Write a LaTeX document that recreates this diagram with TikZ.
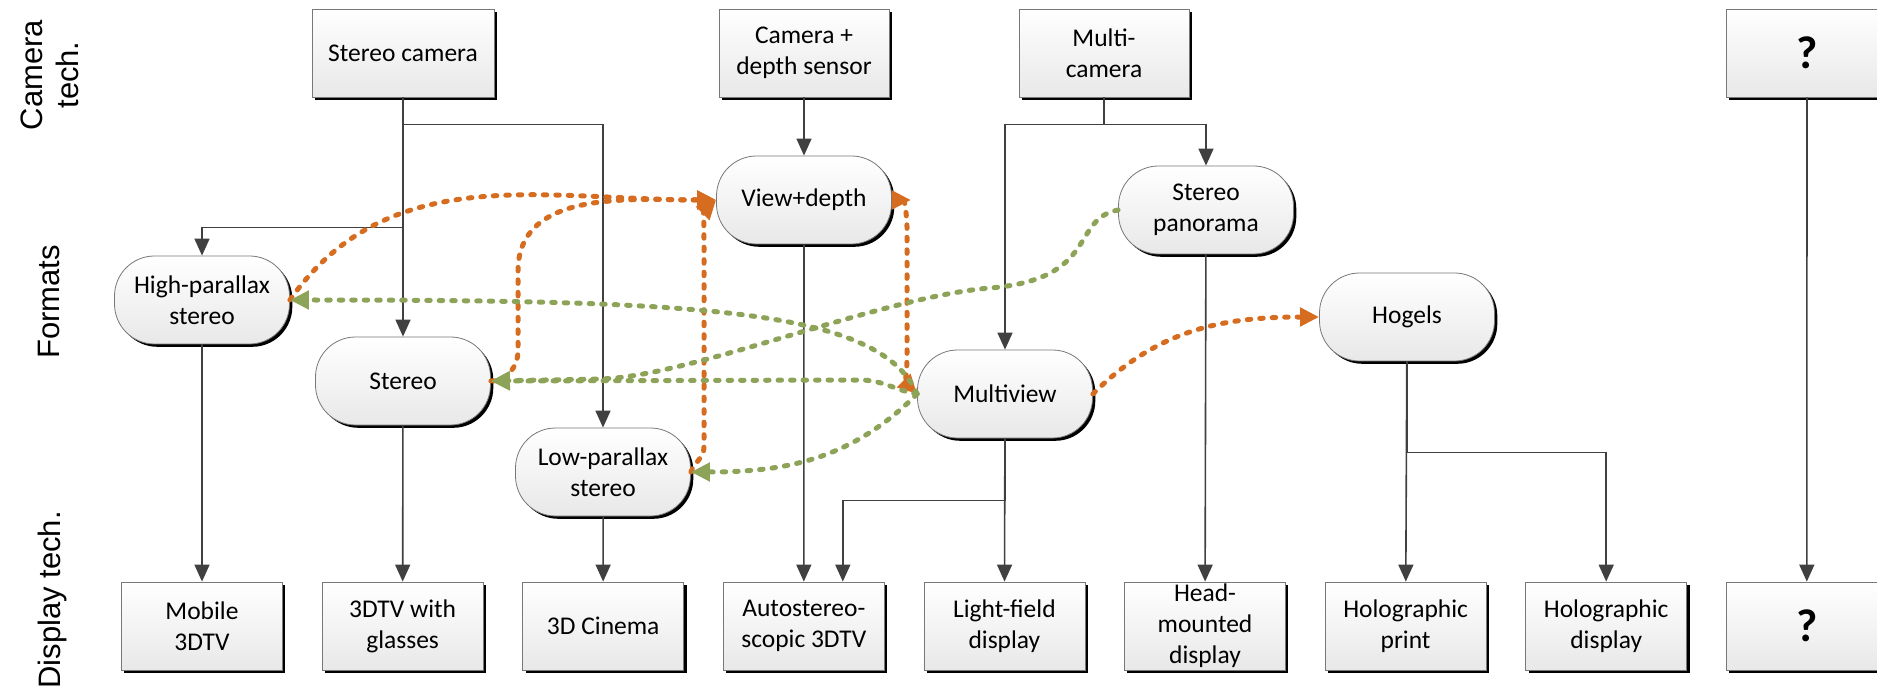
\documentclass[tikz,border=0pt]{standalone}
\usepackage{fontspec}
\setmainfont{Carlito}
\newfontfamily\rowfont{Liberation Sans}
\usetikzlibrary{positioning, arrows.meta, shadows}
\definecolor{linkgray}{RGB}{64,64,64}
\definecolor{relorange}{RGB}{213,108,32}
\definecolor{relgreen}{RGB}{141,163,88}
\definecolor{boxedge}{RGB}{120,120,120}

\begin{document}
\begin{tikzpicture}[
  x=1pt, y=1pt,
  every node/.style={font=\fontsize{25.5}{31}\selectfont},
  techbox/.style={
    rectangle, draw=boxedge, line width=0.8pt,
    top color=white, bottom color=black!9,
    drop shadow={shadow xshift=2.8pt, shadow yshift=-2.8pt, fill=black, opacity=1},
    minimum width=#1, minimum height=88pt,
    inner xsep=4pt, inner ysep=0pt, align=center
  },
  techbox/.default=161pt,
  fmtbox/.style={
    rectangle, rounded corners=40pt, draw=boxedge, line width=0.8pt,
    top color=white, bottom color=black!9,
    drop shadow={shadow xshift=2.8pt, shadow yshift=-2.8pt, fill=black, opacity=1},
    minimum width=175pt, minimum height=88pt,
    inner ysep=0pt, align=center
  },
  rowlabel/.style={font=\rowfont\fontsize{31}{36}\selectfont, rotate=90, align=center},
  link/.style={draw=linkgray, line width=1.6pt, -{Triangle[length=17pt,width=15pt]}},
  rel/.style={draw=#1, line width=5pt, line cap=round,
    dash pattern=on 3.5pt off 9pt, -{Triangle[length=19pt,width=18pt]}},
  orrel/.style={rel=relorange},
  grrel/.style={rel=relgreen}
]
\useasboundingbox (0,0) rectangle (1877,689);

% row labels
\node[rowlabel] (lcam) at (50,614) {Camera\\tech.};
\node[rowlabel] (lfmt) at (49,387) {Formats};
\node[rowlabel] (ldisp) at (52,89) {Display tech.};

% camera technologies
\node[techbox=182pt] (stcam) at (403,636) {Stereo camera};
\node[techbox=170pt] (dcam) at (804,636) {Camera +\\depth sensor};
\node[techbox=170pt] (mcam) at (1104,636) {Multi-\\camera};
\node[techbox] (qcam) at (1807,636) {\fontsize{46}{50}\selectfont\bfseries ?};

% formats
\node[fmtbox] (hipar) at (202,389) {High-parallax\\stereo};
\node[fmtbox] (stereo) at (403,308) {Stereo};
\node[fmtbox] (lopar) at (603,217) {Low-parallax\\stereo};
\node[fmtbox] (vdepth) at (804,489) {View+depth};
\node[fmtbox] (mview) at (1005,295) {Multiview};
\node[fmtbox] (spano) at (1206,479) {Stereo\\panorama};
\node[fmtbox] (hogel) at (1407,372) {Hogels};

% display technologies
\node[techbox] (mob) at (202,63) {Mobile\\3DTV};
\node[techbox, right=38.8pt of mob] (glass) {3DTV with\\glasses};
\node[techbox, right=38.8pt of glass] (cinema) {3D Cinema};
\node[techbox, right=38.8pt of cinema] (autos) {Autostereo-\\scopic 3DTV};
\node[techbox, right=38.8pt of autos] (lfield) {Light-field\\display};
\node[techbox, right=38.8pt of lfield] (hmd) {Head-\\mounted\\display};
\node[techbox, right=38.8pt of hmd] (hprint) {Holographic\\print};
\node[techbox, right=38.8pt of hprint] (hdisp) {Holographic\\display};
\node[techbox, right=38.8pt of hdisp] (qdisp) {\fontsize{46}{50}\selectfont\bfseries ?};

% capture -> format -> display
\draw[link] (stcam.south) -- (stereo.north);
\draw[link] (stcam.south) -- ++(0,-130) -| (hipar.north);
\draw[link] (stcam.south) -- ++(0,-27) -| (lopar.north);
\draw[link] (dcam) -- (vdepth);
\draw[link] (mcam.south) -- ++(0,-27) -| (mview.north);
\draw[link] (mcam.south) -- ++(0,-27) -| (spano.north);
\draw[link] (hipar) -- (mob);
\draw[link] (stereo) -- (glass);
\draw[link] (lopar) -- (cinema);
\draw[link] (vdepth) -- (autos);
\draw[link] (mview) -- (lfield);
\draw[link] (mview.south) -- ++(0,-62) -| ([xshift=39pt]autos.north);
\draw[link] (spano) -- (hmd);
\draw[link] (hogel) -- (hprint);
\draw[link] (hogel.south) -- ++(0,-91) -| (hdisp.north);
\draw[link] (qcam) -- (qdisp);

% conversions (orange)
\draw[orrel] (hipar.east) to[out=55, in=180] (vdepth.west);
\draw[orrel] (stereo.east) to[out=0, in=-90] (518,338) -- (518,418) to[out=90, in=180] (vdepth.west);
\draw[orrel] (lopar.east) to[out=70, in=-90] (704,242) -- (704,445) to[out=90, in=-135] (vdepth.west);
\draw[orrel, {Triangle[reversed,length=19pt,width=18pt]}-{Triangle[length=19pt,width=18pt]}]
  (vdepth.east) to[out=0, in=90] (907,462) -- (907,335) to[out=-90, in=135] (mview.west);
\draw[orrel] (mview.east) to[out=45, in=180] (hogel.west);

% conversions (green)
\draw[grrel] (mview.west) .. controls (880,380) and (700,389) .. (hipar.east);
\draw[grrel] (mview.west) to[out=170, in=0] (860,309) -- (stereo.east);
\draw[grrel] (mview.west) to[out=-135, in=0] (lopar.east);
\draw[grrel] (spano.west) .. controls (1070,470) and (1100,410) .. (990,401)
  .. controls (880,392) and (690,312) .. (600,310) -- (stereo.east);

\end{tikzpicture}
\end{document}
